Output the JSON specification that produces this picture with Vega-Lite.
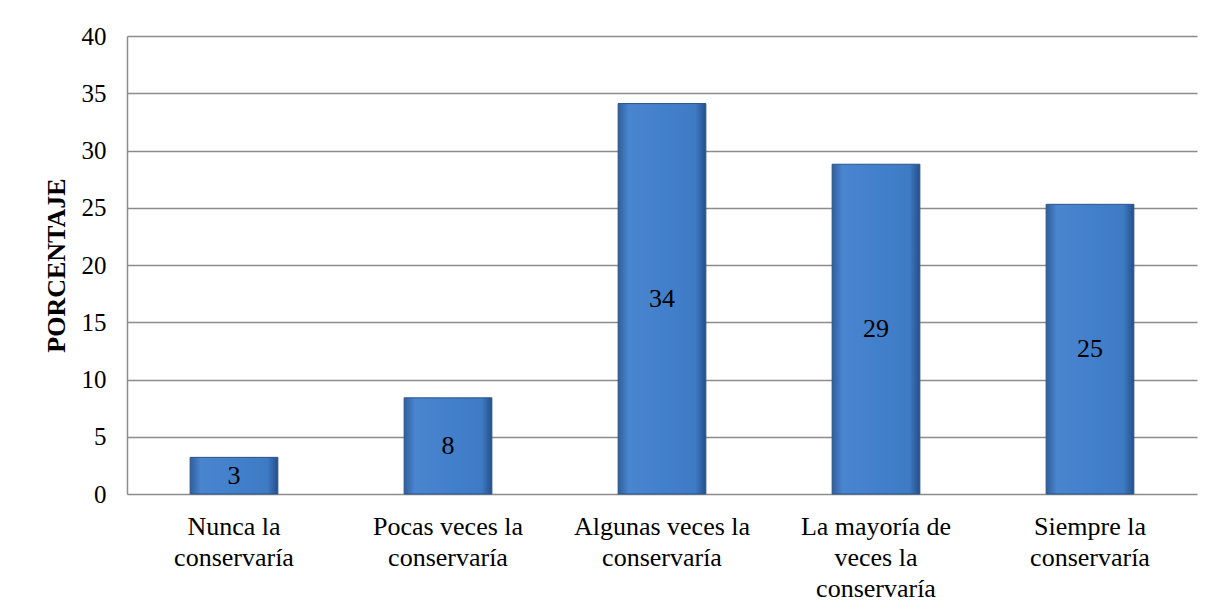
{
  "$schema": "https://vega.github.io/schema/vega-lite/v6.json",
  "width": 1070,
  "height": 458,
  "autosize": {"type": "none"},
  "padding": {"left": 127, "top": 36, "right": 20, "bottom": 121},
  "background": "white",
  "config": {
    "view": {"stroke": null},
    "font": "Liberation Serif",
    "axis": {"labelFont": "Liberation Serif", "titleFont": "Liberation Serif", "labelColor": "black", "titleColor": "black"}
  },
  "data": {
    "values": [
      {"categoria": "Nunca la conservaría", "porcentaje": 3.2},
      {"categoria": "Pocas veces la conservaría", "porcentaje": 8.4},
      {"categoria": "Algunas veces la conservaría", "porcentaje": 34.1},
      {"categoria": "La mayoría de veces la conservaría", "porcentaje": 28.8},
      {"categoria": "Siempre la conservaría", "porcentaje": 25.3}
    ]
  },
  "encoding": {
    "x": {
      "field": "categoria",
      "type": "nominal",
      "sort": null,
      "scale": {"paddingInner": 0.59, "paddingOuter": 0.295},
      "axis": {
        "title": null,
        "labelAngle": 0,
        "labelFontSize": 26,
        "labelLineHeight": 31,
        "labelPadding": 19,
        "labelLimit": 300,
        "ticks": false,
        "domain": false,
        "labelExpr": "datum.value == 'La mayoría de veces la conservaría' ? ['La mayoría de', 'veces la', 'conservaría'] : datum.value == 'Nunca la conservaría' ? ['Nunca la', 'conservaría'] : datum.value == 'Pocas veces la conservaría' ? ['Pocas veces la', 'conservaría'] : datum.value == 'Algunas veces la conservaría' ? ['Algunas veces la', 'conservaría'] : ['Siempre la', 'conservaría']"
      }
    }
  },
  "layer": [
    {
      "mark": {
        "type": "bar",
        "stroke": "#2b5487",
        "strokeWidth": 1,
        "color": {
          "gradient": "linear",
          "x1": 0, "y1": 0, "x2": 1, "y2": 0,
          "stops": [
            {"offset": 0, "color": "#2f5f9c"},
            {"offset": 0.12, "color": "#4a85cf"},
            {"offset": 0.5, "color": "#4380cb"},
            {"offset": 0.88, "color": "#3f7bc5"},
            {"offset": 1, "color": "#25508a"}
          ]
        }
      },
      "encoding": {
        "y": {
          "field": "porcentaje",
          "type": "quantitative",
          "scale": {"domain": [0, 40]},
          "axis": {
            "title": "PORCENTAJE",
            "titleFontSize": 26,
            "titleFontWeight": "bold",
            "titlePadding": 12,
            "values": [0, 5, 10, 15, 20, 25, 30, 35, 40],
            "labelFontSize": 25,
            "labelPadding": 21,
            "ticks": false,
            "domainColor": "#8c8c8c",
            "domainWidth": 1.5,
            "gridColor": "#8c8c8c",
            "gridWidth": 1.5,
            "grid": true
          }
        }
      }
    },
    {
      "transform": [{"calculate": "datum.porcentaje / 2", "as": "centro"}],
      "mark": {"type": "text", "fontSize": 26, "color": "black", "baseline": "middle", "font": "Liberation Serif"},
      "encoding": {
        "y": {"field": "centro", "type": "quantitative"},
        "text": {"field": "porcentaje", "type": "quantitative", "format": ".0f"}
      }
    }
  ]
}
